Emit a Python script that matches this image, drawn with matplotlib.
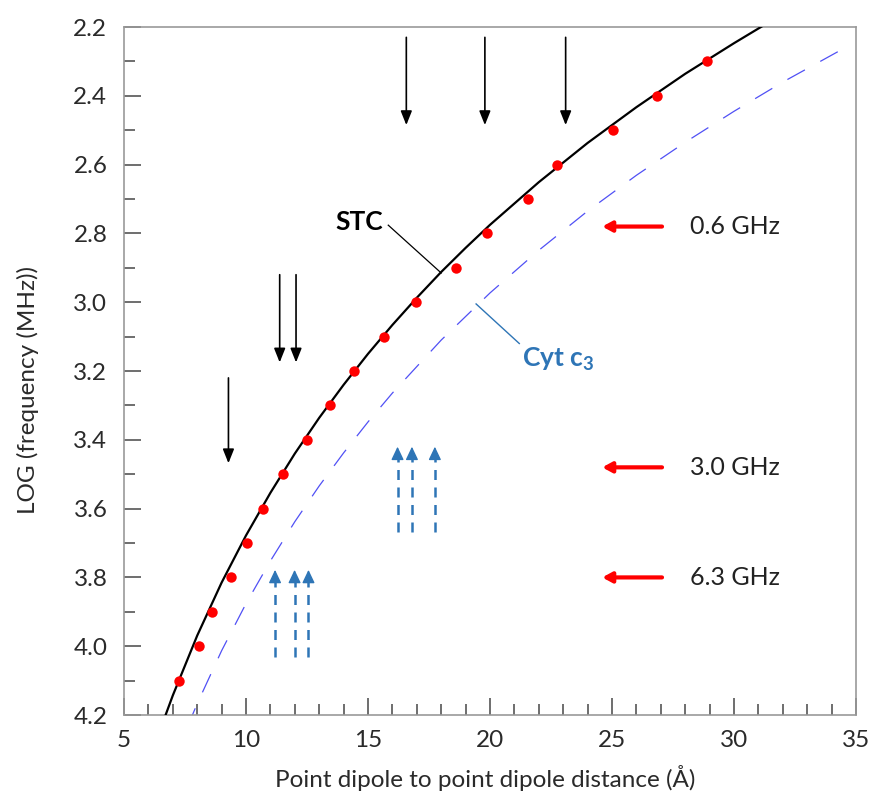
#!/usr/bin/env python3
"""Point dipole distance vs. log frequency (STC and Cyt c3)."""

import matplotlib
matplotlib.use("Agg")
import matplotlib.pyplot as plt
from matplotlib.ticker import MultipleLocator

# red dots on the STC curve (distance in Å, log10 of frequency in MHz)
dot_logf = [2.3, 2.4, 2.5, 2.6, 2.7, 2.8, 2.9, 3.0, 3.1, 3.2,
            3.3, 3.4, 3.5, 3.6, 3.7, 3.8, 3.9, 4.0, 4.1]
dot_r = [28.88, 26.83, 25.03, 22.74, 21.56, 19.88, 18.61, 16.98, 15.67, 14.44,
         13.46, 12.48, 11.52, 10.68, 10.03, 9.37, 8.60, 8.07, 7.25]

# STC solid curve
stc_r = [6.6, 7, 8, 9, 10, 11, 12, 13, 14, 15, 16, 17, 18, 19, 20,
         22, 24, 26, 28, 30, 31.5]
stc_logf = [4.220, 4.143, 3.969, 3.815, 3.678, 3.554, 3.440, 3.336, 3.240, 3.150,
            3.066, 2.987, 2.912, 2.842, 2.775, 2.651, 2.537, 2.433, 2.336, 2.247, 2.183]

# Cyt c3 dashed curve
cyt_r = [7.6, 8, 9, 10, 11, 12, 13, 14, 15, 16, 18, 20, 22, 24, 26, 28, 30, 32, 34.3]
cyt_logf = [4.234, 4.167, 4.013, 3.876, 3.752, 3.638, 3.534, 3.438, 3.348, 3.264,
            3.110, 2.973, 2.849, 2.735, 2.631, 2.535, 2.445, 2.360, 2.270]

# black down arrows: x, start, tip
down_x = [16.57, 19.79, 23.10, 11.38, 12.05, 9.28]
down_from = [2.23, 2.23, 2.23, 2.92, 2.92, 3.22]
down_to = [2.485, 2.485, 2.485, 3.175, 3.175, 3.468]

# blue dashed up arrows: x, start, tip
up_x = [16.21, 16.80, 17.74, 11.19, 11.99, 12.56]
up_from = [3.667, 3.667, 3.667, 4.03, 4.03, 4.03]
up_to = [3.42, 3.42, 3.42, 3.778, 3.778, 3.778]

# spectrometer frequencies
freq_labels = ["0.6 GHz", "3.0 GHz", "6.3 GHz"]
freq_logf = [2.78, 3.48, 3.80]

FONT = "Lato"
plt.rcParams["font.family"] = [FONT, "DejaVu Sans"]
plt.rcParams["mathtext.fontset"] = "custom"
plt.rcParams["mathtext.rm"] = "Lato:bold"
plt.rcParams["mathtext.default"] = "rm"

fig = plt.figure(figsize=(8.74, 7.95), dpi=100)
ax = fig.add_axes([0.1419, 0.1006, 0.8375, 0.8654])

ax.plot(stc_r, stc_logf, color="black", lw=1.6, zorder=3)
ax.plot(cyt_r, cyt_logf, color="#5050F5", lw=0.9, dashes=(16, 14), zorder=2)
ax.plot(dot_r, dot_logf, "o", color="#FF0000", ms=7.5, mec="none", zorder=4)

for x, y0, y1 in zip(down_x, down_from, down_to):
    ax.annotate("", xy=(x, y1), xytext=(x, y0),
                arrowprops=dict(arrowstyle="-|>,head_length=0.85,head_width=0.34",
                                color="black", lw=1.2, shrinkA=0, shrinkB=0))

blue = "#2E75B6"
for x, y0, y1 in zip(up_x, up_from, up_to):
    ax.plot([x, x], [y0, y1 + 0.03], color=blue, lw=1.8, dashes=(4, 3))
    ax.annotate("", xy=(x, y1), xytext=(x, y1 + 0.03),
                arrowprops=dict(arrowstyle="-|>,head_length=0.8,head_width=0.38",
                                color=blue, lw=1.0, shrinkA=0, shrinkB=0))

for label, y in zip(freq_labels, freq_logf):
    ax.annotate("", xy=(24.6, y), xytext=(27.05, y),
                arrowprops=dict(arrowstyle="-|>,head_length=0.55,head_width=0.3",
                                color="#FF0000", lw=3.0, shrinkA=0, shrinkB=0))
    ax.text(28.2, y, label, fontsize=18, color="#222222", va="center", ha="left")

# curve labels with leader lines
ax.plot([15.83, 18.0], [2.776, 2.915], color="black", lw=0.9)
ax.text(15.6, 2.767, "STC", fontsize=19, fontweight="bold", ha="right", va="center")
ax.plot([19.43, 21.2], [3.005, 3.12], color=blue, lw=1.0)
ax.text(21.3, 3.165, "Cyt c$_3$", fontsize=19, fontweight="bold", color=blue,
        ha="left", va="center")

ax.set_xlim(5, 35)
ax.set_ylim(4.2, 2.2)
ax.xaxis.set_major_locator(MultipleLocator(5))
ax.xaxis.set_minor_locator(MultipleLocator(1))
ax.yaxis.set_major_locator(MultipleLocator(0.2))
ax.yaxis.set_minor_locator(MultipleLocator(0.1))
ax.yaxis.set_major_formatter(plt.FuncFormatter(lambda v, p: f"{v:.1f}"))

ax.tick_params(which="both", direction="in", color="#555555", labelcolor="#2a2a2a",
               labelsize=17.5, width=1.2)
ax.tick_params(axis="y", pad=12)
ax.tick_params(axis="x", pad=11)
ax.tick_params(which="major", length=12)
ax.tick_params(which="minor", length=8)
for side in ax.spines.values():
    side.set_color("#999999")
    side.set_linewidth(1.2)

ax.set_xlabel("Point dipole to point dipole distance (Å)", fontsize=17.5, color="#2a2a2a")
ax.set_ylabel("LOG (frequency (MHz))", fontsize=17.5, color="#2a2a2a")
ax.xaxis.set_label_coords(0.493, -0.072)
ax.yaxis.set_label_coords(-0.131, 0.472)
ax.yaxis.label.set_va("center")

fig.savefig("out.png", dpi=100)
